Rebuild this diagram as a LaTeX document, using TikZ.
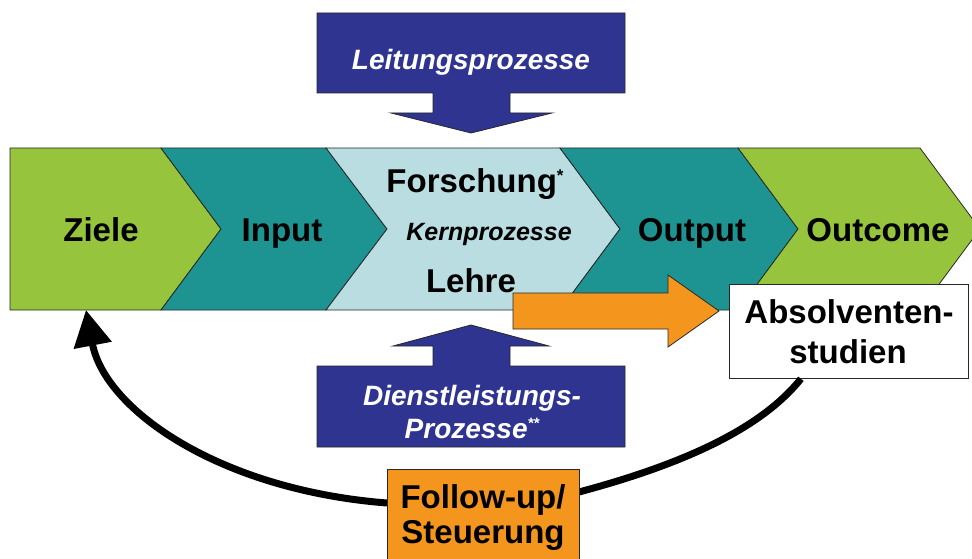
\documentclass[tikz,border=0pt]{standalone}
\usepackage{fontspec}
\setmainfont{Liberation Sans}
\usetikzlibrary{arrows.meta,calc}
\definecolor{cgreen}{RGB}{150,196,60}
\definecolor{cteal}{RGB}{30,148,146}
\definecolor{clight}{RGB}{186,221,225}
\definecolor{cnavy}{RGB}{46,52,143}
\definecolor{corange}{RGB}{244,150,30}
\definecolor{cedge}{RGB}{40,40,40}
\tikzset{
  band/.style={draw=cedge, line width=0.8pt, line join=miter},
  bigarrow/.style={draw=cedge, line width=0.8pt, fill=cnavy},
  lbl/.style={font=\fontsize{33}{38}\selectfont\bfseries, anchor=base, inner sep=0pt, text=black},
  wlbl/.style={font=\fontsize{28}{33}\selectfont\bfseries\itshape, anchor=base, inner sep=0pt, text=white},
  klbl/.style={font=\fontsize{25}{29}\selectfont\bfseries\itshape, anchor=base, inner sep=0pt, text=black},
  boxnode/.style={draw=cedge, line width=0.8pt, inner sep=0pt, anchor=north west},
  loop/.style={line width=7pt, draw=black}
}
\begin{document}
\begin{tikzpicture}[x=1pt,y=-1pt]
\useasboundingbox (0,0) rectangle (972,559);
\clip (0,0) rectangle (972,559);
% process band
\draw[band, fill=cgreen] (10,148) -- (161,148) -- (221,229) -- (161,310) -- (10,310) -- cycle;
\draw[band, fill=cteal] (161,148) -- (326,148) -- (387,229) -- (326,310) -- (161,310) -- (221,229) -- cycle;
\draw[band, fill=clight] (326,148) -- (560,148) -- (620,229) -- (560,310) -- (326,310) -- (387,229) -- cycle;
\draw[band, fill=cteal] (560,148) -- (738,148) -- (798,229) -- (738,310) -- (560,310) -- (620,229) -- cycle;
\draw[band, fill=cgreen] (738,148) -- (920,148) -- (980,229) -- (920,310) -- (738,310) -- (798,229) -- cycle;
\coordinate (zieltip) at (86,310);
% labels in band
\node[lbl] (ziele) at (101,241) {Ziele};
\node[lbl] (input) at (282,241) {Input};
\node[lbl] (forschung) at (475,193) {Forschung\raisebox{11pt}{\fontsize{17}{17}\selectfont *}};
\node[klbl] (kern) at (489,240) {Kernprozesse};
\node[lbl] (lehre) at (471,292) {Lehre};
\node[lbl] (output) at (692,241) {Output};
\node[lbl] (outcome) at (878,241) {Outcome};
% Leitungsprozesse arrow
\draw[bigarrow] (317,13) -- (625,13) -- (625,93) -- (510,93) -- (510,113) -- (552,113) -- (471,133) -- (391,113) -- (433,113) -- (433,93) -- (317,93) -- cycle;
\node[wlbl] (leitung) at (471,70) {Leitungsprozesse};
% Dienstleistungs arrow
\draw[bigarrow] (317,447) -- (625,447) -- (625,366) -- (510,366) -- (510,346) -- (549,346) -- (471,325) -- (393,346) -- (433,346) -- (433,366) -- (317,366) -- cycle;
\node[wlbl] (dienst1) at (472,405) {Dienstleistungs-};
\node[wlbl] (dienst2) at (472,438) {Prozesse\raisebox{10pt}{\fontsize{15}{15}\selectfont **}};
% orange arrow
\draw[band, fill=corange] (513,293) -- (668,293) -- (668,275) -- (719,311) -- (668,347) -- (668,329) -- (513,329) -- cycle;
% boxes
\node[boxnode, fill=white, minimum width=239pt, minimum height=94pt] (abs) at (729,284) {};
\node[lbl] (abs1) at (849,323) {Absolventen-};
\node[lbl] (abs2) at (848,363) {studien};
% loop
\draw[loop] ($(abs.south west)!0.3!(abs.south east)$) .. controls (760,430) and (680,465) .. (579,492);
\draw[loop, -{Triangle[length=36pt,width=37pt]}] (387,503) .. controls (220,490) and (105,410) .. (zieltip);
\node[boxnode, fill=corange, minimum width=192pt, minimum height=110pt] (follow) at (387,469) {};
\node[lbl] (fu1) at (483,508) {Follow-up/};
\node[lbl] (fu2) at (483,543) {Steuerung};
\end{tikzpicture}
\end{document}
